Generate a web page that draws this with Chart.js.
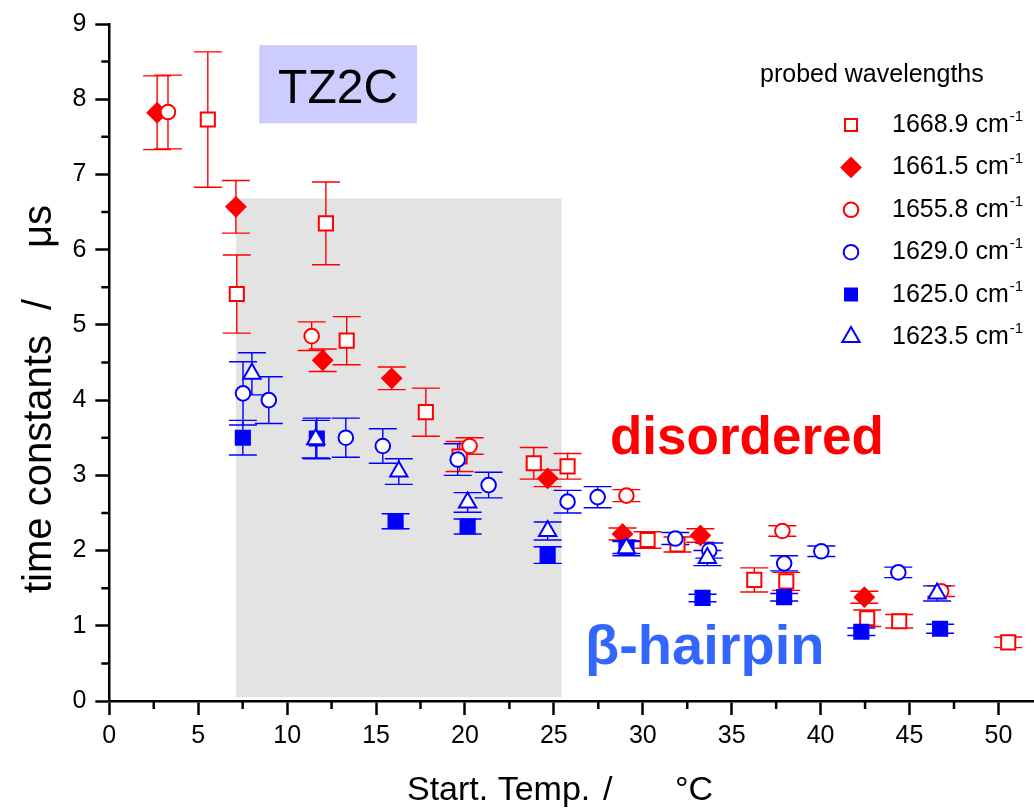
<!DOCTYPE html>
<html>
<head>
<meta charset="utf-8">
<script src="https://cdn.jsdelivr.net/npm/chart.js@4.4.0/dist/chart.umd.min.js"></script>
<style>
  html, body { margin: 0; padding: 0; background: #fff; }
  #wrap { width: 1034px; height: 810px; }
</style>
</head>
<body>
<div id="wrap"><canvas id="chart" width="1034" height="810"></canvas></div>
<script>
const red = '#ff0000';
const blue = '#0000ff';
const font = "'Liberation Sans', Arial, Helvetica, sans-serif";

// 1668.9 cm-1, open squares
const x16689 = [5.54, 7.17, 12.18, 13.35, 17.8, 19.7, 23.87, 25.77, 30.27, 31.95, 36.27, 38.07, 42.62, 44.42, 50.55];
const y16689 = [7.73, 5.41, 6.35, 4.79, 3.84, 3.25, 3.16, 3.12, 2.14, 2.08, 1.61, 1.59, 1.10, 1.06, 0.78];
const e16689 = [0.90, 0.52, 0.55, 0.32, 0.32, 0.20, 0.21, 0.17, 0.11, 0.10, 0.16, 0.12, 0.11, 0.09, 0.07];

// 1661.5 cm-1, filled diamonds
const x16615 = [2.69, 7.12, 12.0, 15.88, 24.65, 28.86, 33.24, 42.46];
const y16615 = [7.82, 6.57, 4.53, 4.29, 2.96, 2.22, 2.20, 1.38];
const e16615 = [0.49, 0.35, 0.15, 0.15, 0.11, 0.08, 0.09, 0.08];

// 1655.8 cm-1, open circles
const x16558 = [3.30, 11.38, 20.26, 29.08, 37.85, 46.78];
const y16558 = [7.83, 4.85, 3.39, 2.73, 2.26, 1.46];
const e16558 = [0.49, 0.19, 0.11, 0.08, 0.07, 0.07];

// 1629.0 cm-1, open circles
const x16290 = [7.52, 8.97, 13.3, 15.38, 19.59, 21.33, 25.77, 27.46, 31.83, 33.74, 37.95, 40.04, 44.37];
const y16290 = [4.09, 4.00, 3.50, 3.39, 3.21, 2.87, 2.65, 2.71, 2.16, 2.00, 1.83, 1.99, 1.71];
const e16290 = [0.42, 0.31, 0.26, 0.23, 0.21, 0.17, 0.15, 0.14, 0.08, 0.10, 0.10, 0.07, 0.07];

// 1625.0 cm-1, filled squares
const x16250 = [7.51, 11.67, 16.1, 20.15, 24.65, 29.08, 33.36, 37.95, 42.29, 46.72];
const y16250 = [3.50, 3.49, 2.39, 2.32, 1.94, 2.04, 1.37, 1.38, 0.92, 0.96];
const e16250 = [0.23, 0.27, 0.10, 0.10, 0.11, 0.08, 0.05, 0.05, 0.05, 0.06];

// 1623.5 cm-1, open triangles
const x16235 = [8.02, 11.61, 16.28, 20.15, 24.65, 29.08, 33.63, 46.55];
const y16235 = [4.35, 3.48, 3.05, 2.64, 2.26, 2.03, 1.90, 1.43];
const e16235 = [0.28, 0.25, 0.17, 0.13, 0.12, 0.10, 0.10, 0.10];

const wavelengths = ['1668.9', '1661.5', '1655.8', '1629.0', '1625.0', '1623.5'];
const xTicks = [0, 5, 10, 15, 20, 25, 30, 35, 40, 45, 50];
const yTicks = [0, 1, 2, 3, 4, 5, 6, 7, 8, 9];

const series = [
    { xs: x16689, ys: y16689, errs: e16689, color: red, style: 'rect', radius: 10, filled: false },
    { xs: x16615, ys: y16615, errs: e16615, color: red, style: 'rectRot', radius: 9.5, filled: true },
    { xs: x16558, ys: y16558, errs: e16558, color: red, style: 'circle', radius: 7.3, filled: false },
    { xs: x16290, ys: y16290, errs: e16290, color: blue, style: 'circle', radius: 7.3, filled: false },
    { xs: x16250, ys: y16250, errs: e16250, color: blue, style: 'rect', radius: 10, filled: true },
    { xs: x16235, ys: y16235, errs: e16235, color: blue, style: 'triangle', radius: 10, filled: false },
];

// shaded temperature window and the sample label box (data units)
const shade = { x0: 7.12, x1: 25.43, y0: 0.05, y1: 6.68 };
const tagBox = { x0: 8.43, x1: 17.3, y0: 7.68, y1: 8.72 };

const backdrop = {
    id: 'backdrop',
    beforeDatasetsDraw(chart) {
        const { ctx, scales: { x, y } } = chart;
        ctx.save();
        ctx.fillStyle = '#e3e3e3';
        ctx.fillRect(x.getPixelForValue(shade.x0), y.getPixelForValue(shade.y1),
            x.getPixelForValue(shade.x1) - x.getPixelForValue(shade.x0),
            y.getPixelForValue(shade.y0) - y.getPixelForValue(shade.y1));
        ctx.fillStyle = '#ccccff';
        ctx.fillRect(x.getPixelForValue(tagBox.x0), y.getPixelForValue(tagBox.y1),
            x.getPixelForValue(tagBox.x1) - x.getPixelForValue(tagBox.x0),
            y.getPixelForValue(tagBox.y0) - y.getPixelForValue(tagBox.y1));
        ctx.fillStyle = '#000';
        ctx.font = `48px ${font}`;
        ctx.textAlign = 'center';
        ctx.textBaseline = 'alphabetic';
        ctx.fillText('TZ2C', (x.getPixelForValue(tagBox.x0) + x.getPixelForValue(tagBox.x1)) / 2, 103);

        // error bars
        ctx.lineWidth = 1.4;
        chart.data.datasets.forEach(ds => {
            ctx.strokeStyle = ds.borderColor;
            ds.data.forEach((p, j) => {
                const px = x.getPixelForValue(p.x);
                const top = y.getPixelForValue(p.y + ds.errors[j]);
                const bot = y.getPixelForValue(p.y - ds.errors[j]);
                ctx.beginPath();
                ctx.moveTo(px, top);
                ctx.lineTo(px, bot);
                ctx.moveTo(px - 14, top);
                ctx.lineTo(px + 14, top);
                ctx.moveTo(px - 14, bot);
                ctx.lineTo(px + 14, bot);
                ctx.stroke();
            });
        });
        ctx.restore();
    }
};

const decorations = {
    id: 'decorations',
    afterDraw(chart) {
        const { ctx, chartArea: area, scales: { x, y } } = chart;
        ctx.save();

        // minor ticks
        ctx.strokeStyle = '#000';
        ctx.lineWidth = 2.5;
        ctx.beginPath();
        for (let v = 2.5; v < 52; v += 5) {
            const px = x.getPixelForValue(v);
            ctx.moveTo(px, area.bottom);
            ctx.lineTo(px, area.bottom + 8);
        }
        for (let v = 0.5; v < 9; v += 1) {
            const py = y.getPixelForValue(v);
            ctx.moveTo(area.left, py);
            ctx.lineTo(area.left - 8, py);
        }
        ctx.stroke();

        // axis titles
        ctx.fillStyle = '#000';
        ctx.textAlign = 'left';
        ctx.textBaseline = 'alphabetic';
        ctx.font = `34px ${font}`;
        ctx.fillText('Start. Temp.', 407, 800);
        ctx.fillText('/', 603, 800);
        ctx.fillText('°C', 675, 800);

        ctx.save();
        ctx.translate(51, 0);
        ctx.rotate(-Math.PI / 2);
        ctx.font = `40px ${font}`;
        ctx.fillText('time constants', -593, 0);
        ctx.fillText('/', -310, 0);
        ctx.fillText('μs', -248, 0);
        ctx.restore();

        // region labels
        ctx.font = `bold 53px ${font}`;
        ctx.fillStyle = red;
        ctx.fillText('disordered', 610, 454);
        ctx.font = `bold 56px ${font}`;
        ctx.fillStyle = '#3366ff';
        ctx.fillText('β-hairpin', 585, 664);

        // legend
        ctx.fillStyle = '#000';
        ctx.font = `25px ${font}`;
        ctx.fillText('probed wavelengths', 760, 82);
        chart.data.datasets.forEach((ds, i) => {
            const cy = 125 + i * 42.4;
            ctx.fillStyle = ds.backgroundColor;
            ctx.strokeStyle = ds.borderColor;
            ctx.lineWidth = 2;
            const r = ds.pointStyle === 'rect' ? 8.5 : ds.pointRadius;
            Chart.helpers.drawPoint(ctx, { pointStyle: ds.pointStyle, radius: r, borderWidth: 2, rotation: 0 }, 851, cy);
            ctx.fillStyle = '#000';
            ctx.font = `25px ${font}`;
            const txt = `${wavelengths[i]} cm`;
            ctx.fillText(txt, 892, cy + 7);
            const w = ctx.measureText(txt).width;
            ctx.font = `15px ${font}`;
            ctx.fillText('-1', 892 + w + 1, cy - 4);
        });
        ctx.restore();
    }
};

const ctx = document.getElementById('chart').getContext('2d');
new Chart(ctx, {
    type: 'scatter',
    data: {
        datasets: series.map((s, i) => ({
            label: `${wavelengths[i]} cm-1`,
            data: s.xs.map((v, j) => ({ x: v, y: s.ys[j] })),
            errors: s.errs,
            pointStyle: s.style,
            pointRadius: s.radius,
            pointHoverRadius: s.radius,
            pointBorderWidth: 2,
            borderColor: s.color,
            backgroundColor: s.filled ? s.color : '#ffffff',
            order: series.length - i
        }))
    },
    options: {
        responsive: false,
        animation: false,
        devicePixelRatio: 1,
        layout: { autoPadding: false, padding: { top: 23, right: 0, bottom: 0, left: 0 } },
        plugins: { legend: { display: false }, tooltip: { enabled: false } },
        scales: {
            x: {
                type: 'linear',
                min: 0,
                max: 52,
                afterFit: scale => {
                    scale.height = 109;
                },
                afterBuildTicks: scale => {
                    scale.ticks = xTicks.map(v => ({ value: v }));
                },
                ticks: { color: '#000', font: { family: font, size: 25 }, padding: 6, maxRotation: 0 },
                grid: { drawOnChartArea: false, tickLength: 14, tickWidth: 2.5, tickColor: '#000' },
                border: { color: '#000', width: 2.5 }
            },
            y: {
                type: 'linear',
                min: 0,
                max: 9,
                afterFit: scale => {
                    scale.width = 109.3;
                },
                afterBuildTicks: scale => {
                    scale.ticks = yTicks.map(v => ({ value: v }));
                },
                ticks: { color: '#000', font: { family: font, size: 25 }, padding: 9 },
                grid: { drawOnChartArea: false, tickLength: 14, tickWidth: 2.5, tickColor: '#000' },
                border: { color: '#000', width: 2.5 }
            }
        }
    },
    plugins: [backdrop, decorations]
});
</script>
</body>
</html>
